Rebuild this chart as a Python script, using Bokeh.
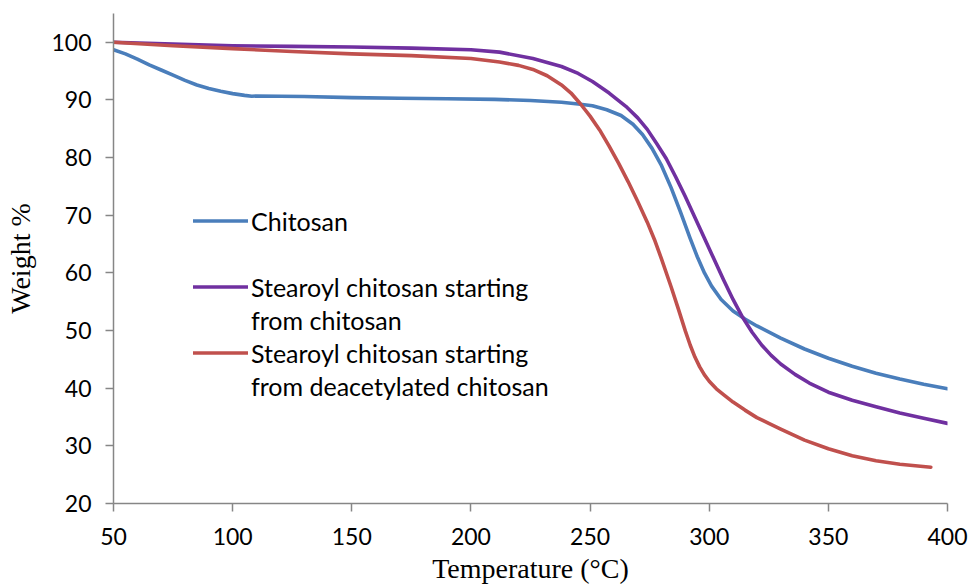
from bokeh.plotting import figure
from bokeh.models import Range1d, FixedTicker, Legend, LegendItem
from bokeh.embed import file_html
from bokeh.resources import INLINE

# ---- data ----
chitosan_x = [50, 55, 60, 65, 70, 75, 80, 85, 90, 95, 100, 105, 108, 110, 130, 150, 170, 190, 210,
              225, 238, 245, 251, 257, 263, 268, 272, 276, 280, 284, 288, 292, 295, 298, 301, 305,
              310, 315, 320, 330, 340, 350, 360, 370, 380, 390, 400]
chitosan_y = [98.7, 98.0, 97.1, 96.1, 95.2, 94.3, 93.4, 92.6, 92.0, 91.5, 91.1, 90.8, 90.65, 90.7, 90.6,
              90.4, 90.3, 90.2, 90.1, 89.9, 89.6, 89.3, 89.0, 88.3, 87.3, 85.8, 84.0, 81.6, 78.6, 74.8,
              70.5, 66.0, 62.8, 60.0, 57.7, 55.4, 53.4, 52.0, 50.8, 48.7, 46.8, 45.2, 43.8, 42.6, 41.6,
              40.7, 39.9]

stearoyl_x = [50, 75, 100, 125, 150, 175, 200, 212, 226, 238, 245, 251, 258, 265, 270, 274, 278, 282,
              286, 290, 294, 298, 302, 306, 310, 314, 318, 322, 326, 330, 336, 342, 350, 360, 370, 380,
              390, 400]
stearoyl_y = [100.0, 99.7, 99.4, 99.3, 99.2, 99.0, 98.7, 98.3, 97.2, 95.8, 94.6, 93.2, 91.2, 88.9, 86.9,
              84.9, 82.4, 79.8, 76.6, 73.2, 69.6, 66.0, 62.4, 58.8, 55.4, 52.3, 49.7, 47.5, 45.7, 44.2,
              42.4, 40.9, 39.3, 37.9, 36.8, 35.7, 34.8, 33.9]

deacet_x = [50, 75, 100, 125, 150, 175, 200, 212, 220, 226, 232, 238, 242, 246, 250, 254, 258, 262, 266,
            270, 274, 277, 280, 284, 287, 290, 292, 294, 296, 298, 300, 303, 306, 310, 315, 320, 325, 330,
            340, 350, 360, 370, 380, 393]
deacet_y = [100.0, 99.4, 98.9, 98.4, 98.0, 97.7, 97.2, 96.6, 96.0, 95.3, 94.2, 92.6, 91.2, 89.3, 87.2,
            84.8, 82.0, 79.0, 75.8, 72.4, 68.8, 65.8, 62.4, 57.6, 53.8, 49.9, 47.5, 45.4, 43.7, 42.3,
            41.2, 39.9, 38.9, 37.6, 36.2, 34.9, 33.9, 32.9, 31.0, 29.5, 28.3, 27.4, 26.8, 26.3]

x_ticks = [50, 100, 150, 200, 250, 300, 350, 400]
y_ticks = [20, 30, 40, 50, 60, 70, 80, 90, 100]

labels = ["Chitosan",
          "Stearoyl chitosan starting", "from chitosan",
          "Stearoyl chitosan starting", "from deacetylated chitosan"]
colors = ["#4A7EBB", "#7030A0", "#C0504D"]

# ---- figure ----
p = figure(width=970, height=586, output_backend="svg", toolbar_location=None,
           x_range=Range1d(50, 400), y_range=Range1d(20, 105),
           min_border_left=113, min_border_right=23, min_border_top=13, min_border_bottom=82)
p.outline_line_color = None
p.grid.visible = False
p.background_fill_color = "white"
p.border_fill_color = "white"

r_chi = p.line(chitosan_x, chitosan_y, line_color=colors[0], line_width=3.6,
               line_join="round", line_cap="round")
r_st = p.line(stearoyl_x, stearoyl_y, line_color=colors[1], line_width=3.6,
              line_join="round", line_cap="round")
r_de = p.line(deacet_x, deacet_y, line_color=colors[2], line_width=3.6,
              line_join="round", line_cap="round")
blank = p.line(x=[], y=[], line_alpha=0)

for ax, ticks in ((p.xaxis[0], x_ticks), (p.yaxis[0], y_ticks)):
    ax.ticker = FixedTicker(ticks=ticks)
    ax.minor_tick_line_color = None
    ax.axis_line_color = "#868686"
    ax.axis_line_width = 1.5
    ax.major_tick_line_color = "#868686"
    ax.major_tick_line_width = 1.5
    ax.major_tick_out = 8
    ax.major_tick_in = 0
    ax.major_label_text_font = "Lato"
    ax.major_label_text_font_size = "23px"
    ax.major_label_text_color = "black"
    ax.axis_label_text_font = "Liberation Serif"
    ax.axis_label_text_font_size = "28px"
    ax.axis_label_text_font_style = "normal"
    ax.axis_label_text_color = "black"

p.xaxis[0].axis_label = "Temperature (°C)"
p.yaxis[0].axis_label = "Weight %"
p.xaxis[0].major_label_standoff = 16
p.xaxis[0].axis_label_standoff = 5
p.yaxis[0].major_label_standoff = 14
p.yaxis[0].axis_label_standoff = 12

items = [
    LegendItem(label=labels[0], renderers=[r_chi]),
    LegendItem(label=" ", renderers=[blank]),
    LegendItem(label=labels[1], renderers=[r_st]),
    LegendItem(label=labels[2], renderers=[blank]),
    LegendItem(label=labels[3], renderers=[r_de]),
    LegendItem(label=labels[4], renderers=[blank]),
]
legend = Legend(items=items, location=(80, 101), padding=0, margin=0, spacing=0,
                glyph_width=55, glyph_height=33, label_height=33, label_standoff=3,
                label_text_font="Lato", label_text_font_size="25px", label_text_color="black",
                background_fill_alpha=0, border_line_alpha=0)
p.add_layout(legend, "center")

open("out.html", "w").write(file_html(p, INLINE))
